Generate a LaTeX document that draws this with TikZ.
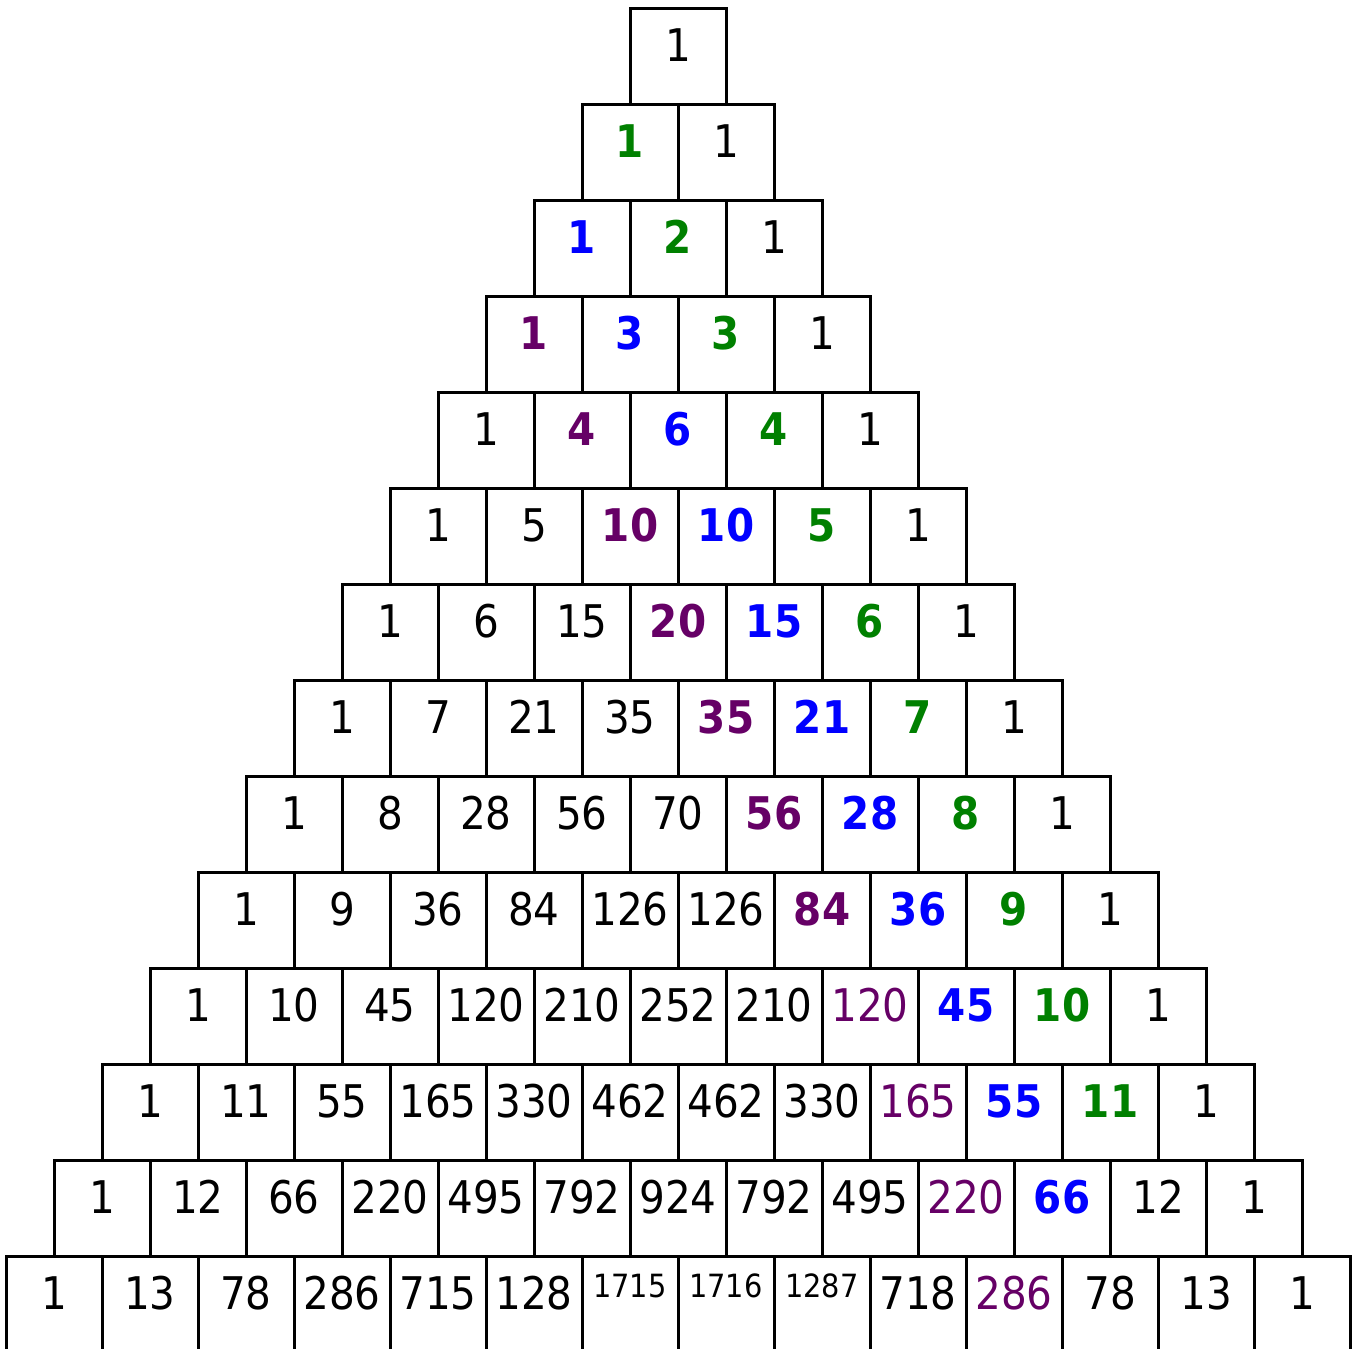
\documentclass[tikz,border=0pt]{standalone}
\usepackage{fontspec}
\setmainfont{DejaVu Sans Condensed}
\usepackage{tikz}
\usetikzlibrary{positioning}
\definecolor{pascalgreen}{RGB}{0,128,0}
\definecolor{pascalblue}{RGB}{0,0,255}
\definecolor{pascalpurple}{RGB}{102,0,102}
\def\tinymark{s}

\begin{document}
\begin{tikzpicture}[
  x=1pt, y=-1pt,
  cell/.style={draw, line width=3pt, rectangle, minimum size=96pt, inner sep=0pt,
    text height=11pt, text depth=0pt, font=\fontsize{45}{54}\selectfont},
  cn/.style={text=black},
  cg/.style={text=pascalgreen, font=\fontsize{45}{54}\selectfont\bfseries},
  cb/.style={text=pascalblue, font=\fontsize{45}{54}\selectfont\bfseries},
  cp/.style={text=pascalpurple, font=\fontsize{45}{54}\selectfont\bfseries},
  cq/.style={text=pascalpurple},
  cs/.style={text=black, font=\fontsize{32}{38}\selectfont},
]
  \useasboundingbox (0,0) rectangle (1352,1349);

  % Rows of the triangle: style letter / value
  \foreach \row [count=\r from 0] in {
    {n/1},
    {g/1,n/1},
    {b/1,g/2,n/1},
    {p/1,b/3,g/3,n/1},
    {n/1,p/4,b/6,g/4,n/1},
    {n/1,n/5,p/10,b/10,g/5,n/1},
    {n/1,n/6,n/15,p/20,b/15,g/6,n/1},
    {n/1,n/7,n/21,n/35,p/35,b/21,g/7,n/1},
    {n/1,n/8,n/28,n/56,n/70,p/56,b/28,g/8,n/1},
    {n/1,n/9,n/36,n/84,n/126,n/126,p/84,b/36,g/9,n/1},
    {n/1,n/10,n/45,n/120,n/210,n/252,n/210,q/120,b/45,g/10,n/1},
    {n/1,n/11,n/55,n/165,n/330,n/462,n/462,n/330,q/165,b/55,g/11,n/1},
    {n/1,n/12,n/66,n/220,n/495,n/792,n/924,n/792,n/495,q/220,b/66,n/12,n/1},
    {n/1,n/13,n/78,n/286,n/715,n/128,s/1715,s/1716,s/1287,n/718,q/286,n/78,n/13,n/1}} {
    \foreach \st/\val [count=\k from 0] in \row {
      \ifx\st\tinymark
        \node (cell-\r-\k) [cell, cs] at ({678-48*\r+96*\k}, {56+96*\r}) {\raisebox{12.5pt}{\val}};
      \else
        \node (cell-\r-\k) [cell, c\st] at ({678-48*\r+96*\k}, {56+96*\r}) {\val};
      \fi
    }
  }

\end{tikzpicture}
\end{document}
